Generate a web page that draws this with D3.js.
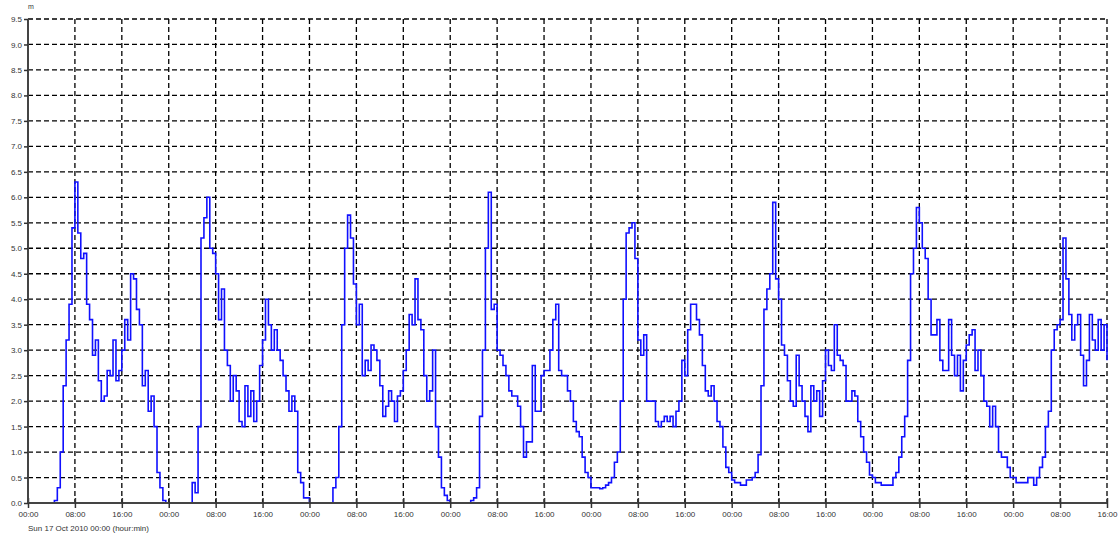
<!DOCTYPE html>
<html>
<head>
<meta charset="utf-8">
<script src="https://cdn.jsdelivr.net/npm/d3@7"></script>
<style>
  body { margin: 0; background: #fff; }
  svg { display: block; }
  text { font-family: "Liberation Sans", Arial, sans-serif; font-size: 8px; fill: #333; }
</style>
</head>
<body>
<script>
// water level readings, one value every 30 minutes, starting Sun 17 Oct 2010 00:00
var day1 = [0,0,0,0,0,0,0,0,0,0.05,0.3,1.0,2.3,3.2,3.9,5.4,6.3,5.3,4.8,4.9,3.9,3.6,2.9,3.2,
            2.4,2.0,2.1,2.6,2.5,3.2,2.4,2.6,3.0,3.6,3.2,4.5,4.4,3.8,3.5,2.3,2.6,1.8,2.1,1.5,0.6,0.3,0.05,0];
var day2 = [0,0,0,0,0,0,0,0,0.4,0.2,1.5,5.2,5.6,6.0,5.0,4.9,4.5,3.6,4.2,3.0,2.7,2.0,2.5,2.2,
            1.6,1.5,2.3,1.7,2.2,1.6,2.0,2.7,3.2,4.0,3.5,3.0,3.4,3.0,2.8,2.5,2.2,1.8,2.1,1.8,0.6,0.4,0.1,0.1];
var day3 = [0,0,0,0,0,0,0,0,0.3,0.5,1.5,3.5,5.0,5.65,5.2,4.3,3.5,3.9,2.5,2.8,2.6,3.1,3.0,2.8,
            2.3,1.7,1.9,2.2,2.0,1.6,2.1,2.2,2.6,3.0,3.7,3.5,4.4,3.6,3.4,2.5,2.0,2.2,3.0,1.5,0.9,0.3,0.15,0.05];
var day4 = [0,0,0,0,0,0,0,0.05,0.1,0.3,1.7,3.0,5.0,6.1,3.8,3.9,3.0,2.9,2.7,2.5,2.2,2.1,2.1,1.9,
            1.5,0.9,1.2,1.2,2.7,1.8,1.8,2.5,2.6,2.6,3.0,3.6,3.9,2.6,2.5,2.5,2.2,2.0,1.6,1.4,1.3,0.9,0.6,0.5];
var day5 = [0.3,0.3,0.3,0.28,0.3,0.35,0.4,0.5,0.8,1.0,2.0,4.0,5.3,5.4,5.5,4.8,3.2,2.9,3.3,2.0,2.0,2.0,1.6,1.5,
            1.6,1.7,1.6,1.7,1.5,1.8,2.0,2.8,2.5,3.4,3.9,3.9,3.6,3.3,2.7,2.2,2.1,2.3,2.0,1.6,1.5,1.1,0.7,0.6];
var day6 = [0.45,0.4,0.4,0.35,0.35,0.45,0.45,0.5,0.6,0.95,2.3,3.8,4.2,4.5,5.9,4.4,4.0,3.1,2.9,2.4,2.0,1.9,2.9,2.3,
            2.0,1.7,1.4,2.3,2.0,2.2,1.7,2.4,3.0,2.7,2.6,3.5,2.9,2.8,2.7,2.0,2.0,2.2,2.1,1.6,1.3,1.0,0.8,0.55];
var day7 = [0.5,0.4,0.4,0.35,0.35,0.35,0.35,0.5,0.6,0.9,1.3,1.7,2.8,4.5,5.0,5.8,5.5,5.0,4.8,4.0,3.3,3.3,3.6,2.8,
            2.6,2.6,3.6,2.9,2.5,2.9,2.2,2.8,3.1,3.3,3.4,2.6,3.0,2.5,2.0,1.9,1.5,1.9,1.5,1.0,0.9,0.9,0.7,0.5];
var day8 = [0.5,0.4,0.4,0.4,0.4,0.5,0.5,0.35,0.5,0.7,0.9,1.5,1.8,3.0,3.4,3.5,3.6,5.2,4.4,3.7,3.2,3.5,3.7,2.9,
            2.3,2.8,3.7,3.2,3.0,3.6,3.0,3.5,2.8];

var xTickLabels = ["00:00","08:00","16:00","00:00","08:00","16:00","00:00","08:00","16:00",
                   "00:00","08:00","16:00","00:00","08:00","16:00","00:00","08:00","16:00",
                   "00:00","08:00","16:00","00:00","08:00","16:00"];
var yUnit = "m";
var caption = "Sun 17 Oct 2010 00:00 (hour:min)";

var W = 1119, H = 535;
var margin = {top: 19, right: 12, bottom: 32, left: 28},
    width = W - margin.left - margin.right,
    height = H - margin.top - margin.bottom;

var values = [].concat(day1, day2, day3, day4, day5, day6, day7, day8);
var data = values.map(function(v, i) { return [i * 0.5, v]; });

var x = d3.scaleLinear().domain([0, 184]).range([0, width]);
var y = d3.scaleLinear().domain([0, 9.5]).range([height, 0]);

var xTicks = d3.range(0, 185, 8);
var yTicks = d3.range(0, 19.5).map(function(i) { return i * 0.5; });

var svg = d3.select("body").append("svg")
    .attr("width", W)
    .attr("height", H)
  .append("g")
    .attr("transform", "translate(" + margin.left + "," + margin.top + ")");

// dashed grid
svg.append("g").selectAll("line")
    .data(yTicks.slice(1))
  .enter().append("line")
    .attr("x1", 0).attr("x2", width)
    .attr("y1", function(d) { return y(d); })
    .attr("y2", function(d) { return y(d); })
    .style("stroke", "#000").style("stroke-width", 1.3)
    .style("stroke-dasharray", "5,3");

svg.append("g").selectAll("line")
    .data(xTicks.slice(1))
  .enter().append("line")
    .attr("x1", function(d) { return x(d); })
    .attr("x2", function(d) { return x(d); })
    .attr("y1", 0).attr("y2", height)
    .style("stroke", "#000").style("stroke-width", 1.3)
    .style("stroke-dasharray", "5,3");

// the series
var valueline = d3.line()
    .curve(d3.curveStepAfter)
    .x(function(d) { return x(d[0]); })
    .y(function(d) { return y(d[1]); });

svg.append("path")
    .attr("d", valueline(data))
    .style("fill", "none")
    .style("stroke", "#1010ff")
    .style("stroke-width", 1.6);

// axes
var xAxis = d3.axisBottom(x)
    .tickValues(xTicks)
    .tickSize(5)
    .tickFormat(function(d, i) { return xTickLabels[i]; });

var yAxis = d3.axisLeft(y)
    .tickValues(yTicks)
    .tickSize(4)
    .tickFormat(d3.format(".1f"));

var gx = svg.append("g")
    .attr("transform", "translate(0," + height + ")")
    .call(xAxis);
gx.select(".domain").attr("d", "M0,0H" + width).style("stroke", "#444").style("stroke-width", 2);
gx.selectAll(".tick line").attr("y1", -5).style("stroke", "#333").style("stroke-width", 1.5);
gx.selectAll(".tick text").attr("y", 8).style("font-size", "8px").style("fill", "#333")
    .style("font-family", "Liberation Sans, Arial, sans-serif");

var gy = svg.append("g").call(yAxis);
gy.select(".domain").attr("d", "M0," + height + "V0").style("stroke", "#444").style("stroke-width", 2);
gy.selectAll(".tick line").style("stroke", "#333").style("stroke-width", 1.5);
gy.selectAll(".tick text").attr("x", -6).style("font-size", "8px").style("fill", "#333")
    .style("font-family", "Liberation Sans, Arial, sans-serif");

svg.append("text")      // unit label
    .attr("x", 0)
    .attr("y", -10)
    .style("font-size", "7px")
    .style("fill", "#333")
    .text(yUnit);

svg.append("text")      // date caption below the x-axis
    .attr("x", 0)
    .attr("y", height + 28)
    .text(caption);
</script>
</body>
</html>
